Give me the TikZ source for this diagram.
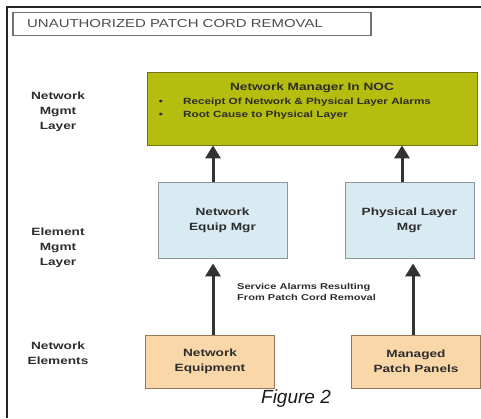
\documentclass[tikz,border=0pt]{standalone}
\usepackage{fontspec}
\setmainfont{Liberation Sans}
\newfontfamily\wide[FakeStretch=1.3]{Liberation Sans}
\usetikzlibrary{arrows.meta}
\definecolor{mgreen}{RGB}{181,189,14}
\definecolor{mgreenb}{RGB}{110,115,20}
\definecolor{mblue}{RGB}{216,234,242}
\definecolor{mblueb}{RGB}{140,150,155}
\definecolor{mpeach}{RGB}{249,215,168}
\definecolor{mpeachb}{RGB}{150,120,85}
\definecolor{mtext}{RGB}{45,45,45}
\begin{document}
\begin{tikzpicture}[x=1pt,y=-1pt,
  every node/.style={inner sep=0pt, text=mtext},
  lbl/.style={font=\wide\bfseries\fontsize{10.5}{15}\selectfont, align=center},
  boxtxt/.style={font=\wide\bfseries\fontsize{10.5}{15}\selectfont, align=center},
  smalltxt/.style={font=\wide\bfseries\fontsize{9}{12}\selectfont},
  mgrbox/.style={draw=mgreenb, fill=mgreen, line width=0.8pt, minimum width=330pt, minimum height=73pt},
  emsbox/.style={draw=mblueb, fill=mblue, line width=0.8pt, minimum width=129pt, minimum height=76pt, boxtxt},
  nebox/.style={draw=mpeachb, fill=mpeach, line width=0.8pt, minimum width=129pt, minimum height=53pt, boxtxt},
  arr/.style={draw=black!80, line width=3pt, -{Triangle[width=15pt,length=13pt]}}
]
\useasboundingbox (0,0) rectangle (481,418);
% outer frame (top and left edges)
\draw[line width=2pt, black!85] (7,418) -- (7,7) -- (481,7);
% title box
\node[draw=black!55, line width=1.2pt, minimum width=358pt, minimum height=23pt] (title) at (192,24) {};
\node[font=\wide\fontsize{11.5}{13}\selectfont, text=black!70, anchor=west] (titlet) at (27,24) {UNAUTHORIZED PATCH CORD REMOVAL};
% layer labels
\node[lbl] (l1) at (58,112) {Network\\Mgmt\\Layer};
\node[lbl] (l2) at (58,248) {Element\\Mgmt\\Layer};
\node[lbl] (l3) at (58,353) {Network\\Elements};
% network manager
\node[mgrbox] (nm) at (312,108.5) {};
\node[boxtxt, anchor=base] (nmt) at (312,90) {Network Manager In NOC};
\node[smalltxt, anchor=base] (b1) at (161,104) {\textbullet};
\node[smalltxt, anchor=base west] (t1) at (183,104) {Receipt Of Network \& Physical Layer Alarms};
\node[smalltxt, anchor=base] (b2) at (161,117) {\textbullet};
\node[smalltxt, anchor=base west] (t2) at (183,117) {Root Cause to Physical Layer};
% element managers
\node[emsbox] (nem) at (222.5,220) {Network\\Equip Mgr};
\node[emsbox] (plm) at (409.5,220) {Physical Layer\\Mgr};
% network elements
\node[nebox] (neq) at (210,361.5) {Network\\Equipment};
\node[nebox] (mpp) at (416,361.5) {Managed\\Patch Panels};
% arrows
\draw[arr] ([xshift=-9.5pt]nem.north) -- ([xshift=-9.5pt]nem.north |- nm.south);
\draw[arr] ([xshift=-7.5pt]plm.north) -- ([xshift=-7.5pt]plm.north |- nm.south);
\draw[arr] ([xshift=3pt]neq.north) -- ([xshift=3pt,yshift=-5pt]neq.north |- nem.south);
\draw[arr] ([xshift=-3pt]mpp.north) -- ([xshift=-3pt,yshift=-5pt]mpp.north |- plm.south);
% alarm label
\node[align=left, anchor=north west, font=\wide\bfseries\fontsize{8.5}{11}\selectfont] (al) at (237,283) {Service Alarms Resulting\\From Patch Cord Removal};
% caption
\node[font=\fontsize{19}{21}\selectfont\itshape, text=black!90] (cap) at (296,399) {Figure 2};
\end{tikzpicture}
\end{document}
